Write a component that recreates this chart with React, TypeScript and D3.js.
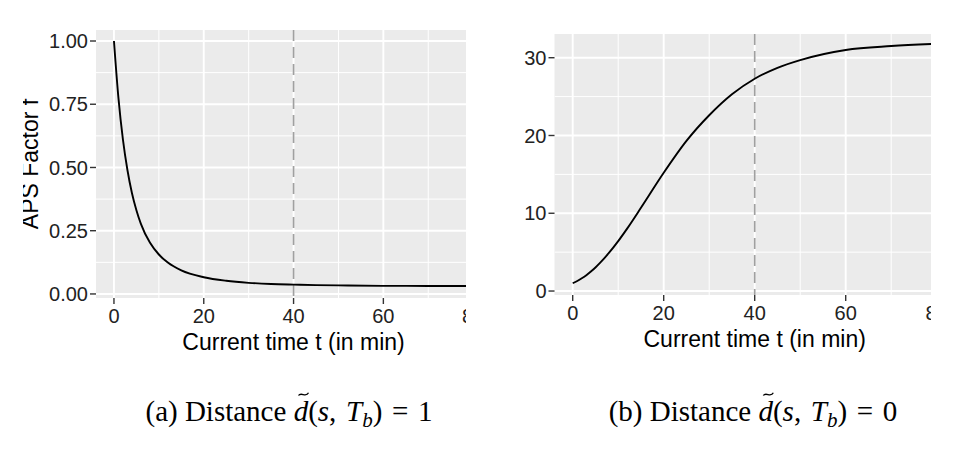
import React, { useLayoutEffect, useRef, useState } from 'react';
import * as d3 from 'd3';

// ---- data ----
const timeMin = [0, 1, 2, 3, 4, 5, 6, 8, 10, 12, 15, 20, 25, 30, 35, 40, 45, 50, 60, 70, 80];
const apsFactorDist1 = [1, 0.774, 0.61, 0.49, 0.399, 0.331, 0.277, 0.203, 0.156, 0.124, 0.093, 0.066, 0.052, 0.044, 0.0395, 0.037, 0.035, 0.034, 0.032, 0.0317, 0.0315];
const apsFactorDist0 = [1, 1.29, 1.64, 2.04, 2.51, 3.02, 3.61, 4.93, 6.42, 8.06, 10.7, 15.2, 19.3, 22.6, 25.3, 27.3, 28.7, 29.7, 31.0, 31.5, 31.8];
const xTicks = [0, 20, 40, 60, 80];
const xMinor = [10, 30, 50, 70];
const yTicksA = [0, 0.25, 0.5, 0.75, 1];
const yMinorA = [0.125, 0.375, 0.625, 0.875];
const yTicksB = [0, 10, 20, 30];
const yMinorB = [5, 15, 25];
const deadlineMin = 40;
const xTitle = 'Current time t (in min)';
const yTitleA = 'APS Factor f';

const SANS = "'Liberation Sans', Arial, Helvetica, sans-serif";
const SERIF = "'Liberation Serif', 'Times New Roman', serif";
const W = 962;
const H = 464;

type PanelProps = {
  id: string;
  clipX0: number;
  clipX1: number;
  x: d3.ScaleLinear<number, number>;
  y: d3.ScaleLinear<number, number>;
  yTicks: number[];
  yMinor: number[];
  fmt: (v: number) => string;
  values: number[];
  yTitle?: string;
};

function Panel({ id, clipX0, clipX1, x, y, yTicks, yMinor, fmt, values, yTitle }: PanelProps) {
  const [px0, px1] = x.range();
  const [py1, py0] = y.range(); // py1 bottom, py0 top
  const line = d3
    .line<number>()
    .x((_, i) => x(timeMin[i]))
    .y((d) => y(d))
    .curve(d3.curveMonotoneX);
  const cx = x(deadlineMin);
  return (
    <g>
      <defs>
        <clipPath id={`fig-${id}`}>
          <rect x={clipX0} y={0} width={clipX1 - clipX0} height={H} />
        </clipPath>
        <clipPath id={`panel-${id}`}>
          <rect x={px0} y={py0} width={px1 - px0} height={py1 - py0} />
        </clipPath>
      </defs>
      <g clipPath={`url(#fig-${id})`}>
        <rect x={px0} y={py0} width={px1 - px0} height={py1 - py0} fill="#EBEBEB" />
        <g clipPath={`url(#panel-${id})`}>
          {yMinor.map((v) => (
            <line key={`ym${v}`} x1={px0} x2={px1} y1={y(v)} y2={y(v)} stroke="#fff" strokeWidth={1} />
          ))}
          {xMinor.map((v) => (
            <line key={`xm${v}`} x1={x(v)} x2={x(v)} y1={py0} y2={py1} stroke="#fff" strokeWidth={1} />
          ))}
          {yTicks.map((v) => (
            <line key={`yM${v}`} x1={px0} x2={px1} y1={y(v)} y2={y(v)} stroke="#fff" strokeWidth={1.9} />
          ))}
          {xTicks.map((v) => (
            <line key={`xM${v}`} x1={x(v)} x2={x(v)} y1={py0} y2={py1} stroke="#fff" strokeWidth={1.9} />
          ))}
          <line x1={cx} x2={cx} y1={py0} y2={py1} stroke="#A0A0A0" strokeWidth={1.7} strokeDasharray="11,6" />
          <path d={line(values) || ''} fill="none" stroke="#000" strokeWidth={1.9} />
        </g>
        {/* y axis */}
        {yTicks.map((v) => (
          <g key={`yt${v}`}>
            <line x1={px0 - 6} x2={px0} y1={y(v)} y2={y(v)} stroke="#333" strokeWidth={1.4} />
            <text x={px0 - 8} y={y(v)} dy="0.36em" textAnchor="end" fontFamily={SANS} fontSize={20} fill="#222">
              {fmt(v)}
            </text>
          </g>
        ))}
        {/* x axis */}
        {xTicks.map((v) => (
          <g key={`xt${v}`}>
            <line x1={x(v)} x2={x(v)} y1={py1} y2={py1 + 6} stroke="#333" strokeWidth={1.4} />
            <text x={x(v)} y={py1 + 25} textAnchor="middle" fontFamily={SANS} fontSize={20} fill="#222">
              {String(v)}
            </text>
          </g>
        ))}
        <text x={x(40)} y={py1 + 52} textAnchor="middle" fontFamily={SANS} fontSize={23} fill="#000">
          {xTitle}
        </text>
        {yTitle && (
          <text
            transform={`translate(${px0 - 58},${(py0 + py1) / 2}) rotate(-90)`}
            textAnchor="middle"
            fontFamily={SANS}
            fontSize={23}
            fill="#000"
          >
            {yTitle}
          </text>
        )}
      </g>
    </g>
  );
}

function Caption({ cx, y, label, rhs }: { cx: number; y: number; label: string; rhs: string }) {
  const ref = useRef<SVGTextElement>(null);
  const [tilde, setTilde] = useState<{ x: number } | null>(null);
  const prefix = `(${label}) Distance `;
  const fs = 29;
  useLayoutEffect(() => {
    const el = ref.current;
    if (!el) return;
    try {
      const ext = el.getExtentOfChar(prefix.length);
      setTilde({ x: ext.x + ext.width * 0.68 });
    } catch (e) {
      /* ignore */
    }
  }, []);
  const tw = 10;
  const ty = y - 27;
  return (
    <g>
      <text ref={ref} x={cx} y={y} textAnchor="middle" fontFamily={SERIF} fontSize={fs} fill="#000">
        <tspan>{prefix}</tspan>
        <tspan fontStyle="italic">d</tspan>
        <tspan>(</tspan>
        <tspan fontStyle="italic">s</tspan>
        <tspan>{',\u2004'}</tspan>
        <tspan fontStyle="italic">T</tspan>
        <tspan fontStyle="italic" fontSize={21} dy={6}>
          b
        </tspan>
        <tspan dy={-6}>{`)\u2004=\u2004${rhs}`}</tspan>
      </text>
      {tilde && (
        <path
          d={`M${tilde.x - tw / 2},${ty + 1.5} C${tilde.x - tw / 4},${ty - 2.5} ${tilde.x + tw / 4},${ty + 4} ${tilde.x + tw / 2},${ty - 1.2}`}
          fill="none"
          stroke="#000"
          strokeWidth={1.3}
        />
      )}
    </g>
  );
}

export default function App() {
  const xA = d3.scaleLinear().domain([-4, 84]).range([96, 96 + 88 * 4.49]);
  const yA = d3.scaleLinear().domain([-0.016, 1.0435]).range([298, 30]);
  const xB = d3.scaleLinear().domain([-4, 84]).range([554.5, 554.5 + 88 * 4.55]);
  const yB = d3.scaleLinear().domain([-0.51, 33.05]).range([295, 34]);
  const fmtA = d3.format('.2f');
  const fmtB = (v: number) => String(v);
  return (
    <svg width={W} height={H} style={{ position: 'absolute', left: 0, top: 0, background: '#fff' }}>
      <rect x={0} y={0} width={W} height={H} fill="#fff" />
      <Panel
        id="a"
        clipX0={23}
        clipX1={466}
        x={xA}
        y={yA}
        yTicks={yTicksA}
        yMinor={yMinorA}
        fmt={fmtA}
        values={apsFactorDist1}
        yTitle={yTitleA}
      />
      <Panel
        id="b"
        clipX0={480}
        clipX1={931}
        x={xB}
        y={yB}
        yTicks={yTicksB}
        yMinor={yMinorB}
        fmt={fmtB}
        values={apsFactorDist0}
      />
      <Caption cx={289} y={421} label="a" rhs="1" />
      <Caption cx={753} y={421} label="b" rhs="0" />
    </svg>
  );
}
